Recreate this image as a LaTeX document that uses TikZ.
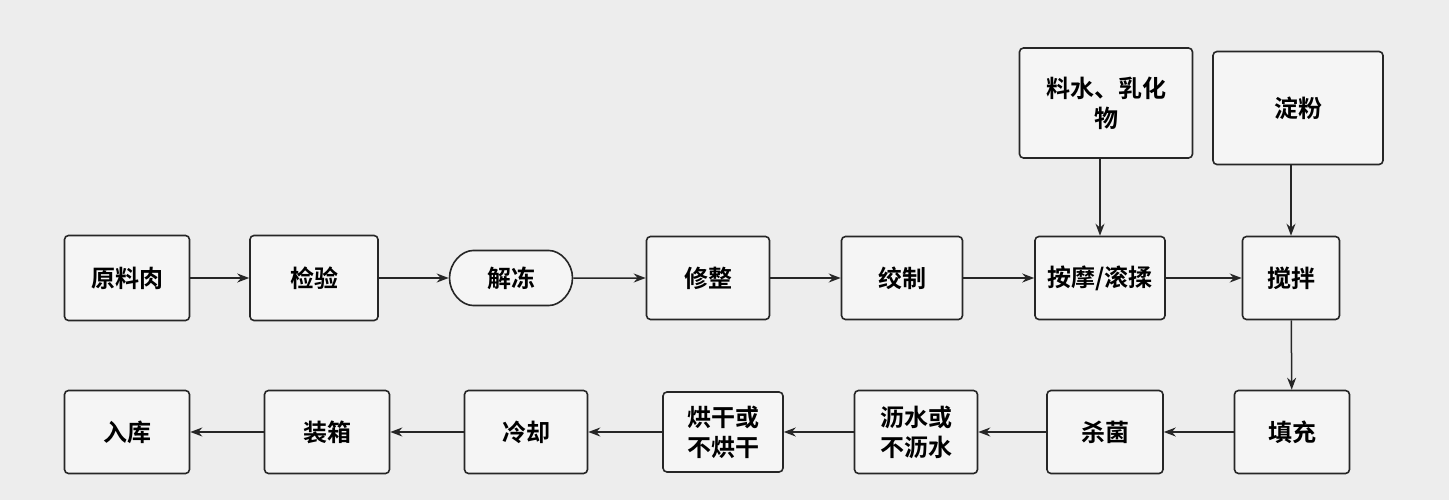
\documentclass[tikz,border=0pt]{standalone}
\usepackage{fontspec}
\setmainfont{Noto Sans CJK SC}[BoldFont={Noto Sans CJK SC Bold}]
\usetikzlibrary{arrows.meta,shapes.misc}
\begin{document}
\begin{tikzpicture}[x=1pt,y=-1pt,
  box/.style={draw=black!85,line width=1.6pt,rounded corners=4pt,fill=black!4,align=center,
    font=\fontsize{24}{30}\selectfont\bfseries,inner sep=0pt},
  arr/.style={-{Stealth[length=12pt,width=9pt]},line width=1.5pt,black!85}]
\fill[black!7] (0,0) rectangle (1449,500);
\useasboundingbox (0,0) rectangle (1449,500);
\node[box,minimum width=125pt,minimum height=85pt] (a) at (127,278) {原料肉};
\node[box,minimum width=128pt,minimum height=85pt] (b) at (314,278) {检验};
\node[box,rounded rectangle,minimum width=123pt,minimum height=55pt] (c) at (511,278) {解冻};
\node[box,minimum width=123pt,minimum height=83pt] (d) at (708,278) {修整};
\node[box,minimum width=121pt,minimum height=83pt] (e) at (902,278) {绞制};
\node[box,minimum width=130pt,minimum height=83pt] (f) at (1100,278) {按摩/滚揉};
\node[box,minimum width=97pt,minimum height=83pt] (g) at (1291,278) {搅拌};
\node[box,minimum width=173pt,minimum height=110pt] (h) at (1106,103) {料水、乳化\\物};
\node[box,minimum width=170pt,minimum height=113pt] (i) at (1298,108) {淀粉};
\node[box,minimum width=115pt,minimum height=83pt] (j) at (1292,432) {填充};
\node[box,minimum width=116pt,minimum height=83pt] (k) at (1105,432) {杀菌};
\node[box,minimum width=123pt,minimum height=83pt] (l) at (916,432) {沥水或\\不沥水};
\node[box,minimum width=120pt,minimum height=80pt] (m) at (723,432) {烘干或\\不烘干};
\node[box,minimum width=123pt,minimum height=83pt] (n) at (526,432) {冷却};
\node[box,minimum width=125pt,minimum height=83pt] (o) at (327,432) {装箱};
\node[box,minimum width=125pt,minimum height=83pt] (p) at (127,432) {入库};
\draw[arr] (a) -- (b);
\draw[arr] (b) -- (c);
\draw[arr] (c) -- (d);
\draw[arr] (d) -- (e);
\draw[arr] (e) -- (f);
\draw[arr] (f) -- (g);
\draw[arr] (h.south -| f.north) -- (f.north);
\draw[arr] (i.south -| g.north) -- (g.north);
\draw[arr] (g) -- (j);
\draw[arr] (j) -- (k);
\draw[arr] (k) -- (l);
\draw[arr] (l) -- (m);
\draw[arr] (m) -- (n);
\draw[arr] (n) -- (o);
\draw[arr] (o) -- (p);
\end{tikzpicture}
\end{document}
